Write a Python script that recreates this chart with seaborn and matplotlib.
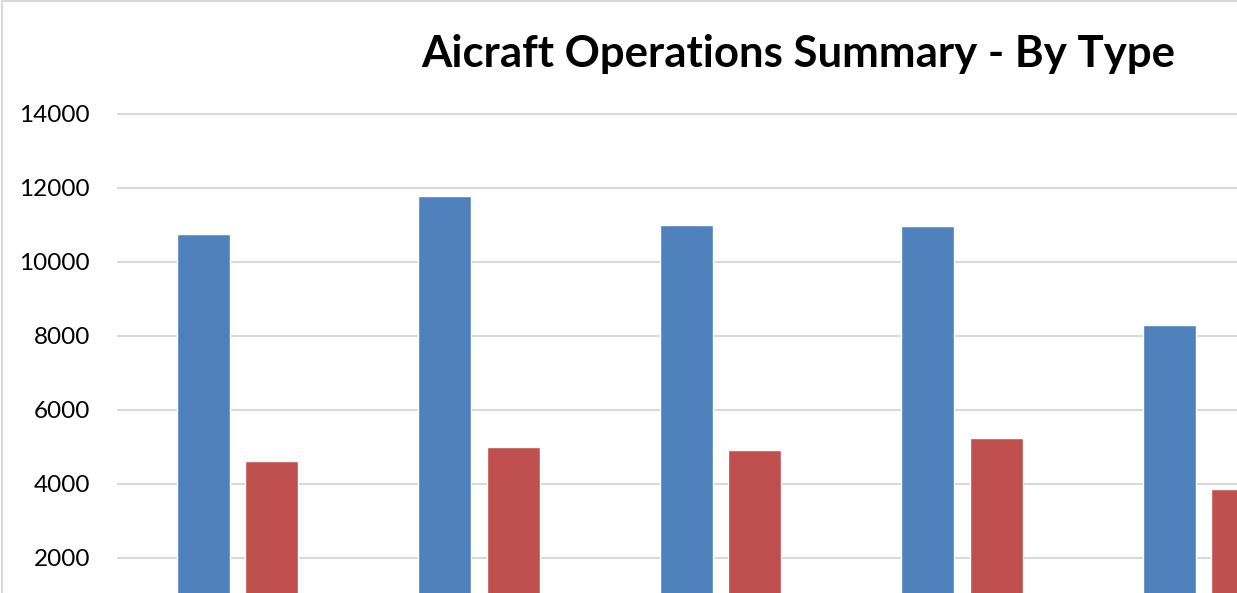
import numpy as np
import pandas as pd
import matplotlib
matplotlib.use("Agg")
import matplotlib.pyplot as plt
import seaborn as sns

# dados (eixo x cortado na imagem original)
categorias = ["A", "B", "C", "D", "E"]
itinerant = [10770, 11780, 11000, 10980, 8300]
local = [4620, 4990, 4920, 5230, 3860]
series = ["Itinerant", "Local"]
cores = ["#4F81BD", "#C0504D"]

df = pd.DataFrame({
    "categoria": categorias * 2,
    "tipo": [series[0]] * len(categorias) + [series[1]] * len(categorias),
    "operacoes": itinerant + local,
})

sns.set_theme(style="white")
plt.rcParams["font.family"] = ["Lato", "DejaVu Sans"]

W, H = 1237, 593
fig = plt.figure(figsize=(W / 100, H / 100), dpi=100)

# escala: 2000 unidades = 74 px, zero em y=632 px (fora da imagem)
px_por_unid = 74 / 2000
y_zero = 632
top_px = 100
bottom_px = H
ax = fig.add_axes([117 / W, 0, (W - 117) / W, (bottom_px - top_px) / H])
ymin = (y_zero - bottom_px) / px_por_unid
ymax = (y_zero - top_px) / px_por_unid

sns.barplot(data=df, x="categoria", y="operacoes", hue="tipo",
            palette=cores, width=0.5675, gap=0.226, ax=ax,
            saturation=1, legend=False)

ax.set_ylim(ymin, ymax)
ax.set_xlim(-0.5, -0.5 + (W - 117) / 241.4)
ax.set_yticks(np.arange(2000, 14001, 2000))
ax.yaxis.grid(True, color="#d9d9d9", linewidth=1.5)
ax.set_axisbelow(True)
for s in ax.spines.values():
    s.set_visible(False)
ax.set_xlabel("")
ax.set_ylabel("")
ax.set_xticks([])
ax.tick_params(axis="y", labelsize=17.5, pad=19.5, length=0, colors="black")

fig.text(798 / W, 1 - 67 / H, "Aicraft Operations Summary - By Type",
         ha="center", va="baseline", fontsize=31.5, fontweight="bold", color="black")

# borda do grafico
fig.patches.append(plt.Rectangle((2 / W, -0.1), 1.2, 1.1 - 1.5 / H, transform=fig.transFigure,
                                 fill=False, edgecolor="#d9d9d9", linewidth=1.5))

fig.savefig("out.png", dpi=100)
